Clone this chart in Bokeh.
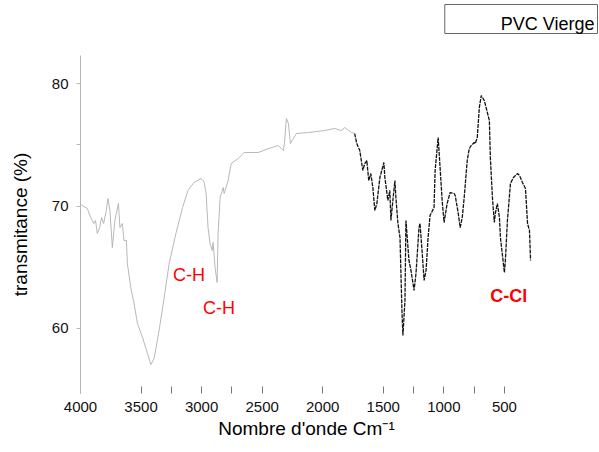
from bokeh.plotting import figure
from bokeh.models import Range1d, FixedTicker, Label, Title
from bokeh.embed import file_html
from bokeh.resources import INLINE

# Spectrum, 4000 -> ~1740 cm-1 (light grey trace)
wn_grey = [3996, 3986, 3944, 3917, 3890, 3876, 3861, 3842, 3826, 3809, 3787, 3774, 3757, 3737,
           3716, 3687, 3674, 3654, 3641, 3621, 3613, 3585, 3558, 3530, 3488, 3447, 3419, 3392,
           3351, 3309, 3268, 3212, 3157, 3113, 3063, 3005, 2980, 2963, 2947, 2930, 2913, 2905,
           2889, 2872, 2864, 2847, 2822, 2814, 2781, 2756, 2698, 2648, 2532, 2449, 2366, 2325,
           2316, 2300, 2283, 2267, 2242, 2217, 2117, 1985, 1902, 1844, 1819, 1786, 1761, 1736]
tr_grey = [70.12, 70.04, 69.80, 69.09, 68.57, 68.82, 67.76, 68.24, 69.06, 68.57, 69.63, 70.61,
           69.63, 66.61, 68.82, 70.20, 68.24, 68.57, 67.18, 67.18, 65.31, 63.35, 62.04, 60.41,
           59.27, 57.96, 57.06, 57.55, 59.84, 62.53, 65.31, 67.76, 69.88, 71.27, 71.92, 72.24,
           72.00, 71.02, 68.24, 66.94, 66.37, 67.02, 64.98, 63.76, 67.76, 70.69, 71.51, 71.02,
           72.08, 73.47, 73.88, 74.37, 74.37, 74.69, 74.94, 74.53, 75.10, 77.14, 76.73, 75.10,
           75.51, 75.92, 76.00, 76.16, 76.33, 76.16, 76.41, 76.16, 76.00, 75.92]

# Spectrum, ~1740 -> 284 cm-1 (dark trace)
wn_dark = [1736, 1719, 1694, 1669, 1653, 1636, 1620, 1603, 1586, 1570, 1553, 1528, 1495, 1487,
           1462, 1446, 1437, 1421, 1404, 1396, 1379, 1362, 1346, 1338, 1321, 1313, 1288, 1271,
           1246, 1230, 1205, 1197, 1180, 1163, 1147, 1130, 1114, 1081, 1072, 1047, 1031, 1014,
           998, 973, 948, 915, 906, 881, 865, 848, 832, 807, 790, 774, 749, 741, 724, 707, 691,
           666, 649, 624, 616, 599, 583, 575, 558, 541, 533, 500, 492, 475, 450, 425, 392, 375,
           351, 326, 309, 293, 284]
tr_dark = [75.92, 75.10, 74.53, 72.90, 73.47, 73.71, 72.08, 72.65, 71.51, 69.63, 70.20, 72.33,
           73.55, 72.33, 70.45, 71.27, 68.82, 70.45, 72.08, 70.69, 68.57, 67.43, 61.47, 59.43,
           62.29, 68.82, 65.55, 64.73, 63.10, 64.49, 68.24, 68.57, 66.37, 63.92, 64.73, 67.43,
           69.22, 69.88, 72.90, 75.59, 73.14, 70.45, 68.65, 70.20, 71.10, 71.02, 70.86, 69.39,
           68.24, 69.06, 70.69, 73.71, 74.69, 74.94, 75.18, 75.10, 75.59, 78.04, 79.02, 78.61,
           77.96, 76.98, 73.96, 70.69, 68.65, 69.39, 70.20, 69.06, 67.43, 64.57, 65.55, 68.82,
           71.84, 72.33, 72.65, 72.49, 71.92, 71.43, 68.57, 68.00, 65.55]

x_ticks = [4000, 3500, 3000, 2500, 2000, 1500, 1000, 500]
x_minor = [3250, 2750, 1250, 750]
y_ticks = [60, 70, 80]
y_minor = [75]
series_name = "PVC Vierge"

FONT = "Liberation Sans"

p = figure(width=599, height=452, output_backend="svg", toolbar_location=None,
           x_range=Range1d(4000, 268), y_range=Range1d(54.69, 82.29),
           min_border_left=80, min_border_right=67, min_border_top=55, min_border_bottom=59)
p.title = None
p.outline_line_color = None
p.xgrid.visible = False
p.ygrid.visible = False
p.background_fill_color = "white"
p.border_fill_color = "white"

p.line(wn_grey, tr_grey, line_color="#b0b0b0", line_width=0.9)
p.line(wn_dark, tr_dark, line_color="#111111", line_width=1.3, line_dash="4 1")

# spacer (closest to the frame) then the legend-like boxed name at the top right
p.add_layout(Title(text=" ", text_font_size="1px", standoff=13), "above")
p.add_layout(Title(text=series_name, align="right", vertical_align="top", offset=-65, standoff=8,
                   text_font=FONT, text_font_size="18px", text_font_style="normal",
                   text_color="black", border_line_color="#666666", border_line_width=1,
                   padding=(56, 3, 9, 0)), "above")

# x axis
xa = p.xaxis[0]
xa.ticker = FixedTicker(ticks=x_ticks, minor_ticks=x_minor)
xa.axis_line_color = None
xa.major_tick_in = 7
xa.major_tick_out = 0
xa.minor_tick_in = 7
xa.minor_tick_out = 0
xa.major_tick_line_color = "#777777"
xa.minor_tick_line_color = "#777777"
xa.major_label_text_font = FONT
xa.major_label_text_font_size = "15px"
xa.major_label_text_color = "#111111"
xa.major_label_standoff = 8
xa.axis_label = "Nombre d'onde Cm\u207b\u00b9"
xa.axis_label_text_font = FONT
xa.axis_label_text_font_size = "19px"
xa.axis_label_text_font_style = "normal"
xa.axis_label_text_color = "black"
xa.axis_label_standoff = 3

# y axis
ya = p.yaxis[0]
ya.ticker = FixedTicker(ticks=y_ticks, minor_ticks=y_minor)
ya.axis_line_color = "#b5b5b5"
ya.major_tick_in = 0
ya.major_tick_out = 4
ya.minor_tick_in = 0
ya.minor_tick_out = 4
ya.major_tick_line_color = "#b5b5b5"
ya.minor_tick_line_color = "#b5b5b5"
ya.major_label_text_font = FONT
ya.major_label_text_font_size = "15px"
ya.major_label_text_color = "#111111"
ya.major_label_standoff = 8
ya.axis_label = "transmitance (%)"
ya.axis_label_text_font = FONT
ya.axis_label_text_font_size = "19px"
ya.axis_label_text_font_style = "normal"
ya.axis_label_text_color = "black"
ya.axis_label_standoff = 18

# band annotations
for txt, xx, yy, style in [("C-H", 3237, 64.33, "normal"),
                           ("C-H", 2988, 61.71, "normal"),
                           ("C-Cl", 616, 62.69, "bold")]:
    p.add_layout(Label(x=xx, y=yy, text=txt, text_color="#ff0000", text_font=FONT,
                       text_font_size="18px", text_font_style=style,
                       text_align="left", text_baseline="alphabetic"))

open("out.html", "w").write(file_html(p, INLINE))
